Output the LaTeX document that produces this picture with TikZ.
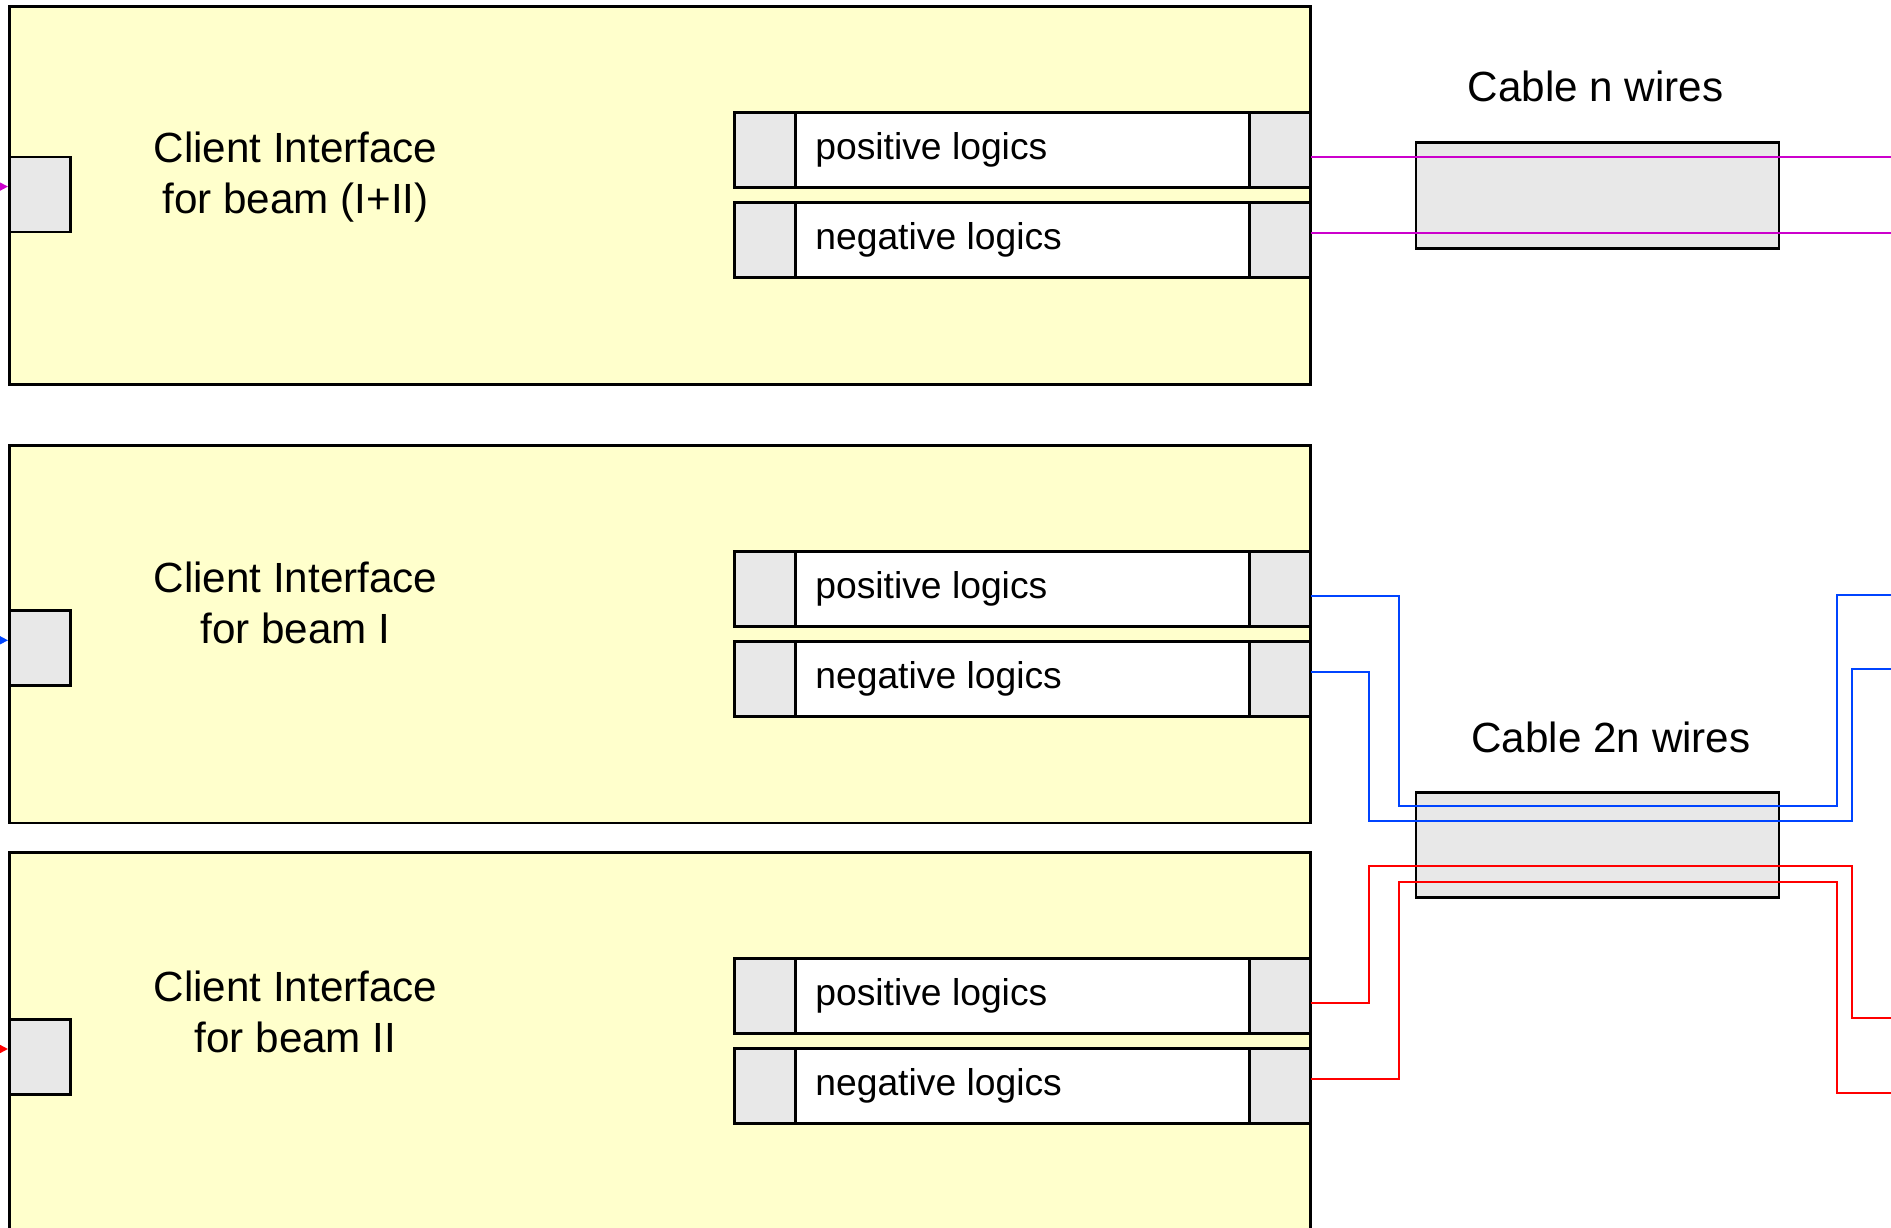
\documentclass[tikz,border=0pt]{standalone}
\usepackage{fontspec}
\setmainfont{Liberation Sans}
\usetikzlibrary{arrows.meta,positioning,calc}
\definecolor{ciyellow}{HTML}{FFFFCC}
\definecolor{portgray}{HTML}{E8E8E8}
\definecolor{wiremag}{HTML}{CC00CC}
\definecolor{wireblue}{HTML}{0044FF}
\definecolor{wirered}{HTML}{FF0000}
\tikzset{
    >={Triangle[length=3pt,width=3pt]},
    every picture/.style={line width=0.75pt},
    box/.style={rectangle,draw,anchor=north west,inner sep=0pt},
    client/.style={box,fill=ciyellow,minimum width=13.005cm},
    port/.style={box,fill=portgray,minimum width=0.61cm,minimum height=0.75cm},
    logic/.style={box,fill=white,minimum width=4.54cm,minimum height=0.75cm},
    cable/.style={box,fill=portgray,minimum width=3.63cm,minimum height=1.06cm},
    wire/.style={line width=0.55pt},
    cilabel/.style={font=\fontsize{12}{14.5}\selectfont,align=center,inner sep=0pt},
    logictext/.style={font=\fontsize{10.6}{12.7}\selectfont,anchor=west,inner sep=0pt}
}

\begin{document}
\begin{tikzpicture}[x=0.01cm,y=-0.01cm]
    \useasboundingbox (0,0) rectangle (1891,1228);
    \coordinate (edge) at (1900,0);

    % Client interfaces
    \foreach \nm/\ytop/\boxh/\prt/\lbl/\wcol/\txt in {
        AB/5/378.5/150.6/172/wiremag/{Client Interface\\for beam (I+II)},
        A/444/377.5/165.3/158.5/wireblue/{Client Interface\\for beam I},
        B/851.4/400/166.6/160.5/wirered/{Client Interface\\for beam II}} {
        \node[client,minimum height=\boxh*0.01cm] (ci\nm) at (8,\ytop) {};
        \node[port] (in\nm) at (8,\ytop+\prt) {};
        \node[cilabel] (lbl\nm) at (295.5,\ytop+\lbl) {\txt};
        % positive / negative logics
        \node[port] (posL\nm) at (733,\ytop+106) {};
        \node[logic] (pos\nm) at (794,\ytop+106) {};
        \node[port,minimum width=0.605cm] (posR\nm) at (1248,\ytop+106) {};
        \node[logictext] (posT\nm) at ($(pos\nm.west)+(20,0)$) {positive logics};
        \node[port] (negL\nm) at (733,\ytop+196) {};
        \node[logic] (neg\nm) at (794,\ytop+196) {};
        \node[port,minimum width=0.605cm] (negR\nm) at (1248,\ytop+196) {};
        \node[logictext] (negT\nm) at ($(neg\nm.west)+(20,0)$) {negative logics};
        % incoming signal
        \coordinate (src\nm) at (-30,\ytop+\prt+31);
        \draw[->,wire,\wcol] (src\nm) -- (src\nm -| in\nm.west);
        \coordinate (w\nm p) at ($(posR\nm.east)+(0,7)$);
        \coordinate (w\nm n) at ($(negR\nm.east)+(0,-7)$);
    }

    % Cables
    \node[cable] (cableN) at (1414.6,141) {};
    \node[cilabel] (cableNlbl) at (1595.5,86.8) {Cable n wires};
    \node[cable,minimum height=1.05cm] (cable2N) at (1414.6,791) {};
    \node[cilabel] (cable2Nlbl) at (1611,737) {Cable 2n wires};

    \coordinate (outAp) at (1900,594.6);
    \coordinate (outAn) at (1900,669.3);
    \coordinate (outBp) at (1900,1018);
    \coordinate (outBn) at (1900,1092.6);

    % Wires
    \draw[wire,wiremag] (wABp) -- (wABp -| edge);
    \draw[wire,wiremag] (wABn) -- (wABn -| edge);
    \draw[wire,wireblue] (wAp) -| (1399,805.6) -| (1836.8,594.6) -- (outAp);
    \draw[wire,wireblue] (wAn) -| (1368.8,821.3) -| (1852.4,669.3) -- (outAn);
    \draw[wire,wirered] (wBp) -| (1368.8,866) -| (1852.4,1018) -- (outBp);
    \draw[wire,wirered] (wBn) -| (1399,881.6) -| (1836.8,1092.6) -- (outBn);
\end{tikzpicture}
\end{document}
